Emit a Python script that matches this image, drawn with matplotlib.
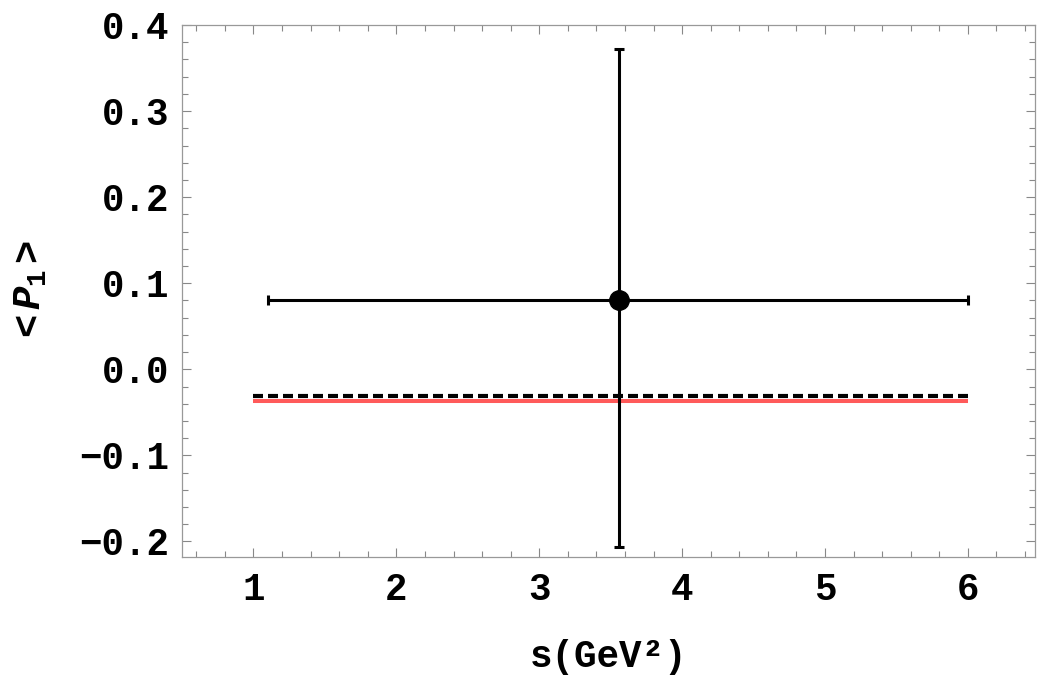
import matplotlib
matplotlib.use('Agg')
import matplotlib.pyplot as plt
from matplotlib.ticker import MultipleLocator, FuncFormatter

# measured point with bin / uncertainty
s_center = [3.56]
s_low = [1.1]
s_high = [6.0]
p1_value = [0.0806]
p1_low = [-0.206]
p1_high = [0.372]

# two predictions over the bin
s_line = [1.0, 6.0]
p1_red = [-0.0365, -0.0365]
p1_dashed = [-0.0307, -0.0307]

x_ticks = [1, 2, 3, 4, 5, 6]
y_ticks = [-0.2, -0.1, 0.0, 0.1, 0.2, 0.3, 0.4]

plt.rcParams['font.family'] = ['Liberation Mono', 'DejaVu Sans Mono']
plt.rcParams['font.weight'] = 'bold'
plt.rcParams['axes.unicode_minus'] = True
plt.rcParams['mathtext.fontset'] = 'custom'
plt.rcParams['mathtext.rm'] = 'Liberation Mono:bold'
plt.rcParams['mathtext.it'] = 'Liberation Mono:italic:bold'
plt.rcParams['mathtext.bf'] = 'Liberation Mono:bold'


def ylab(v, pos):
    txt = f'{v:.1f}'
    if txt == '-0.0':
        txt = '0.0'
    return txt.replace('-', '\u2212')


fig = plt.figure(figsize=(10.42, 6.82), dpi=100)
ax = fig.add_axes([0.1747, 0.1833, 0.8186, 0.78])

ax.plot(s_line, p1_red, color='#ff5a5a', lw=2.9, solid_capstyle='butt', zorder=2)
ax.plot(s_line, p1_dashed, color='black', lw=3.0, dashes=(2.4, 1.2),
        dash_capstyle='butt', zorder=3)

xerr = [[c - lo for c, lo in zip(s_center, s_low)],
        [hi - c for c, hi in zip(s_center, s_high)]]
yerr = [[v - lo for v, lo in zip(p1_value, p1_low)],
        [hi - v for v, hi in zip(p1_value, p1_high)]]
ax.errorbar(s_center, p1_value, xerr=xerr, yerr=yerr, fmt='o', color='black',
            ms=14, lw=2.2, capsize=3.6, capthick=2.2, zorder=4)

ax.set_xlim(0.5, 6.47)
ax.set_ylim(-0.218, 0.4)
ax.set_xticks(x_ticks)
ax.set_yticks(y_ticks)
ax.xaxis.set_minor_locator(MultipleLocator(0.2))
ax.yaxis.set_minor_locator(MultipleLocator(0.02))
ax.yaxis.set_major_formatter(FuncFormatter(ylab))

for sp in ax.spines.values():
    sp.set_color('#999999')
    sp.set_linewidth(0.9)
ax.tick_params(which='both', direction='in', top=True, right=True,
               color='#888888', width=0.8, labelsize=27)
ax.tick_params(which='major', length=6.5)
ax.tick_params(which='minor', length=4)
ax.tick_params(axis='x', which='major', pad=11)
ax.tick_params(axis='y', which='major', pad=9)

ax.set_xlabel('s(GeV²)', fontsize=27, fontweight='bold', labelpad=22)
ax.set_ylabel(r'$<P_{1}>$', fontsize=28, labelpad=22)

fig.savefig('out.png', dpi=100)
